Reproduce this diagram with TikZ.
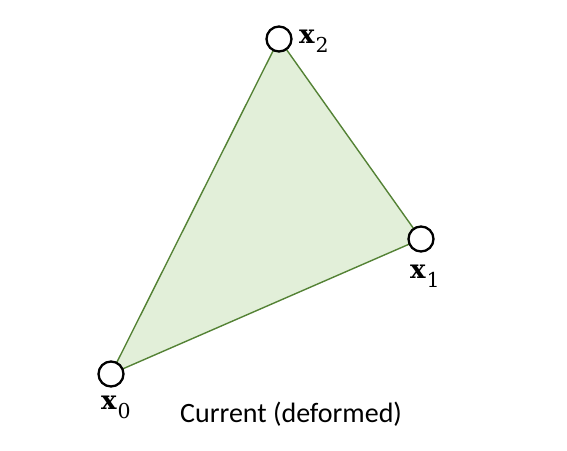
\documentclass[tikz,border=0pt]{standalone}
\usepackage{fontspec}
\newfontfamily\calib{Carlito}
\newfontfamily\dvs{DejaVu Serif}
\definecolor{trifill}{HTML}{E2EFD9}
\definecolor{triedge}{HTML}{548235}
\newcommand{\vlab}[1]{{\dvs\fontsize{26}{30}\selectfont\bfseries x}\kern1pt\raisebox{-9pt}{\dvs\fontsize{20.5}{24}\selectfont #1}}
\begin{document}
\begin{tikzpicture}[x=1pt,y=-1pt,
  vert/.style={circle,draw=black,line width=2.3pt,fill=white,minimum size=25pt,inner sep=0pt},
  lab/.style={anchor=base west,inner sep=0pt},
  captext/.style={anchor=base west,inner sep=0pt,font=\calib\fontsize{28}{32}\selectfont}]
\useasboundingbox (0,0) rectangle (567,450);
\coordinate (p0) at (111,374);
\coordinate (p1) at (421,239);
\coordinate (p2) at (279,39);
\fill[trifill] (p0) -- (p1) -- (p2) -- cycle;
\draw[triedge,line width=1.4pt] (p0) -- (p1) -- (p2) -- cycle;
\node[vert] (v0) at (p0) {};
\node[vert] (v1) at (p1) {};
\node[vert] (v2) at (p2) {};
\node[lab] (l2) at (299,43) {\vlab{2}};
\node[lab] (l1) at (410,278) {\vlab{1}};
\node[lab] (l0) at (101,409) {\vlab{0}};
\node[captext] (c) at (180,422) {Current (deformed)};
\end{tikzpicture}
\end{document}
